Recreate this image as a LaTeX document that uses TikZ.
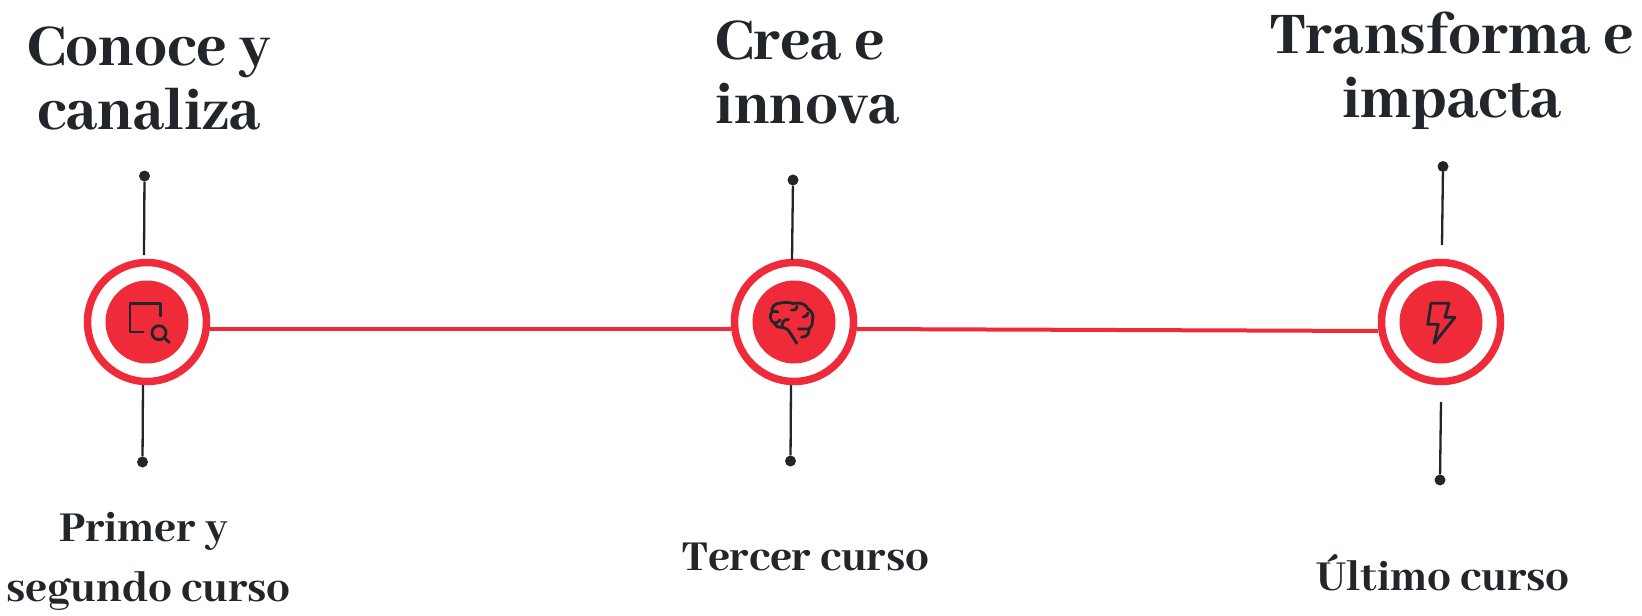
\documentclass[tikz,border=0pt]{standalone}
\usepackage{fontspec}
\setmainfont{Abhaya Libre}[BoldFont={Abhaya Libre ExtraBold}]
\definecolor{tred}{HTML}{EF2B39}
\definecolor{tink}{HTML}{22262B}
\tikzset{
 x=1pt,y=-1pt,
 ring/.style={circle,draw=tred,line width=7.5pt,fill=white,minimum size=119pt,inner sep=0pt,outer sep=3.5pt},
 core/.style={circle,fill=tred,minimum size=83pt,inner sep=0pt},
 pin/.style={circle,fill=tink,minimum size=11pt,inner sep=0pt},
 stem/.style={draw=tink,line width=2.3pt},
 link/.style={draw=tred,line width=4pt},
 icon/.style={draw=tink,line width=2.8pt,line cap=round,line join=round},
 head/.style={font=\fontsize{65}{64}\selectfont\bfseries,text=tink,align=center,inner sep=0pt},
 sub/.style={font=\fontsize{47}{60}\selectfont\bfseries,text=tink,align=center,inner sep=0pt},
}
\begin{document}
\begin{tikzpicture}
\useasboundingbox (0,0) rectangle (1642,616);
\node[ring] (r1) at (147,322) {};
\node[ring] (r2) at (794,322) {};
\node[ring] (r3) at (1441,322) {};
\node[core] (c1) at (147,322) {};
\node[core] (c2) at (794,322) {};
\node[core] (c3) at (1441,322) {};
\coordinate (l1) at (r1.east |- 0,329);
\coordinate (l2a) at (r2.west |- 0,329);
\coordinate (l2b) at (r2.east |- 0,329);
\coordinate (l3) at (r3.west |- 0,331);
\draw[link] (l1) -- (l2a);
\draw[link] (l2b) -- (l3);
% pins and stems
\node[pin] (p1t) at (144.5,176) {};
\node[pin] (p1b) at (142.5,462) {};
\node[pin] (p2t) at (793,180) {};
\node[pin] (p2b) at (790.5,461) {};
\node[pin] (p3t) at (1443,166.5) {};
\node[pin] (p3b) at (1440,480) {};
\coordinate (s1t) at (144,255);
\coordinate (s1b) at (143,385);
\coordinate (s2t) at (792,260);
\coordinate (s2b) at (791,385);
\coordinate (s3t) at (1442,245);
\coordinate (s3b) at (1441,402);
\draw[stem] (p1t) -- (s1t);
\draw[stem] (p1b) -- (s1b);
\draw[stem] (p2t) -- (s2t);
\draw[stem] (p2b) -- (s2b);
\draw[stem] (p3t) -- (s3t);
\draw[stem] (p3b) -- (s3b);
% icon 1
\draw[icon] (143.3,332) -- (130,332) -- (130,303.3) -- (160.7,303.3) -- (160.7,316);
\draw[icon] (159,332.7) circle (7);
\draw[icon] (164.2,337.7) -- (169.3,342.5);
% icon 2: brain
\draw[icon] (796.7,343.3) -- (790,332.7) .. controls (788,329) and (785,327.5) .. (782.5,327.5)
 .. controls (778,327.5) and (775,326) .. (774,323)
 .. controls (769,320) and (770,314) .. (772,312)
 .. controls (771,307) and (775,303) .. (781,303)
 .. controls (785,302) and (790,302.5) .. (793,303.5)
 .. controls (800,302) and (806,304) .. (808,309)
 .. controls (812,311) and (814,316) .. (812.5,320)
 .. controls (813,323) and (812,326) .. (809,329);
\draw[icon] (798.5,329) -- (809,329) .. controls (809.5,334) and (806,337.5) .. (801.5,337);
\draw[icon] (774,323) .. controls (777,323) and (779,321.5) .. (780,320);
\draw[icon] (782.5,327.5) .. controls (781,322.5) and (784,319) .. (788.5,319.5);
\draw[icon] (791.5,310) .. controls (796,310.5) and (797.5,308) .. (797,306);
\draw[icon] (803,317) .. controls (806,317) and (808,315) .. (808,313);
\draw[icon] (772,312) .. controls (774,311) and (776,311) .. (778,312);
% icon 3: bolt
\draw[icon] (1431,303.3) -- (1449,303.3) -- (1445,317.3) -- (1455,317.3) -- (1434,343.3) -- (1438.3,324.3) -- (1427.7,324.3) -- cycle;
% text
\node[head] (h1) at (149,78) {Conoce y\\canaliza};
\node[head,align=left] (h2) at (808,72) {Crea e\\innova};
\node[head] (h3) at (1452,71) {Transforma e\\impacta};
\node[sub] (t1) at (148.5,561) {Primer y\hspace*{10pt}\\segundo curso};
\node[sub] (t2) at (806,557) {Tercer curso};
\node[sub] (t3) at (1443,573) {Último curso};
\end{tikzpicture}
\end{document}
